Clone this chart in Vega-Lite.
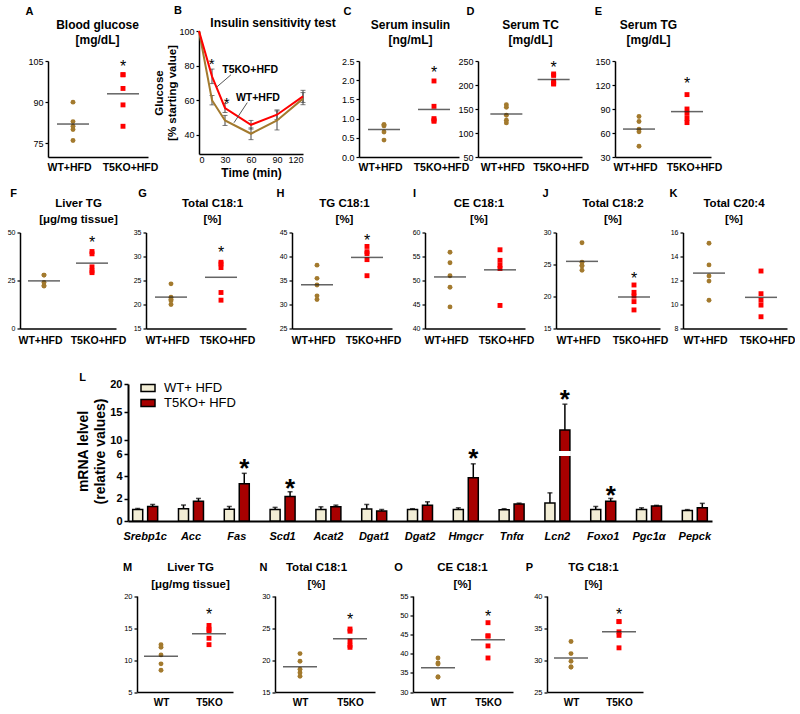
{
"$schema": "https://vega.github.io/schema/vega-lite/v6.json",
"padding": {"left": 0, "top": 4, "right": 0, "bottom": 0},
"background": "white",
"spacing": 171.5,
"bounds": "flush",
"resolve": {"legend": {"fill": "independent"}},
"config": {
  "font": "Liberation Sans",
  "view": {"stroke": null},
  "axis": {"grid": false, "domainColor": "black", "domainWidth": 1.5, "tickColor": "black", "tickWidth": 1.2, "tickSize": 3, "labelColor": "black", "labelFont": "Liberation Sans", "titleColor": "black", "titleFont": "Liberation Sans", "titleFontWeight": "bold", "labelPadding": 2, "titleAlign": "center", "titleBaseline": "middle"},
  "axisY": {"titleFontSize": 12, "labelFontSize": 7},
  "axisX": {"labelAngle": 0, "ticks": false, "labelPadding": 5.5, "labelFontSize": 10.5, "labelFontWeight": "bold", "titleFontSize": 11},
  "text": {"font": "Liberation Sans", "color": "black"}
},
"vconcat": [
{"hconcat": [
{"width": 48, "height": 1, "data": {"values": [{}]}, "mark": {"type": "point", "opacity": 0}, "encoding": {"y": {"datum": 0.5, "type": "quantitative", "scale": {"domain": [0, 1], "range": [121, -58]}, "axis": {"domainOpacity": 0, "domainWidth": 0.001, "labels": false, "ticks": false, "title": null}}}},
{"width": 100, "height": 96,
 "data": {"values": [{"g":"WT+HFD","v":90},{"g":"WT+HFD","v":82.9},{"g":"WT+HFD","v":81.2},{"g":"WT+HFD","v":80},{"g":"WT+HFD","v":76},{"g":"T5KO+HFD","v":100},{"g":"T5KO+HFD","v":100},{"g":"T5KO+HFD","v":95},{"g":"T5KO+HFD","v":89},{"g":"T5KO+HFD","v":81.2}]},
 "encoding": {
  "x": {"field":"g","type":"nominal","scale":{"type":"point","padding":0.5,"domain":["WT+HFD","T5KO+HFD"]},"axis":{"title":"A","titleX":-19,"titleY":-146,"labelPadding":5.5,"labelOffset":{"condition":{"test":"datum.value === 'WT+HFD'","value":-4},"value":7}}},
  "y": {"field":"v","type":"quantitative","scale":{"domain":[70,105],"nice":false,"zero":false},"axis":{"values":[75,90,105],"labelFontSize":9,"title":["Blood glucose","[mg/dL]"],"titleAngle":0,"titleX":49,"titleY":-36.5,"titleLineHeight":15}}
 },
 "layer": [
  {"mark":{"type":"point","filled":true,"opacity":1,"size":24,"strokeWidth":0},"encoding":{"color":{"field":"g","type":"nominal","scale":{"domain":["WT+HFD","T5KO+HFD"],"range":["#A37A2E","#FF0000"]},"legend":null},"shape":{"field":"g","type":"nominal","scale":{"domain":["WT+HFD","T5KO+HFD"],"range":["circle","square"]},"legend":null}}},
  {"transform":[{"aggregate":[{"op":"mean","field":"v","as":"v"}],"groupby":["g"]}],"mark":{"type":"tick","orient":"horizontal","size":32,"thickness":1.5,"color":"#222"}},
  {"data":{"values":[{"g":"T5KO+HFD","v":104.5}]},"mark":{"type":"text","text":"*","fontSize":16,"dy":4.5,"baseline":"middle"}}
 ]},
{"width": 51, "height": 1, "data": {"values": []}, "mark": "point"},
{"width": 104, "height": 93,
 "data": {"values": [
  {"t":0,"g":"WT+HFD","m":100},
  {"t":15,"g":"WT+HFD","m":60,"lo":57.3,"hi":62.7},
  {"t":30,"g":"WT+HFD","m":48.3,"lo":45.4,"hi":51.2},
  {"t":60,"g":"WT+HFD","m":40.6,"lo":37.2,"hi":44},
  {"t":90,"g":"WT+HFD","m":48.3,"lo":42.8,"hi":53.8},
  {"t":120,"g":"WT+HFD","m":60.9,"lo":57.4,"hi":64.4},
  {"t":0,"g":"T5KO+HFD","m":100},
  {"t":15,"g":"T5KO+HFD","m":73.8,"lo":69.6,"hi":78},
  {"t":30,"g":"T5KO+HFD","m":55.5,"lo":52.9,"hi":58.1},
  {"t":60,"g":"T5KO+HFD","m":45.8,"lo":43.3,"hi":48.3},
  {"t":90,"g":"T5KO+HFD","m":51.6,"lo":48.8,"hi":54.4},
  {"t":120,"g":"T5KO+HFD","m":62.2,"lo":58.7,"hi":65.7}]},
 "encoding": {
  "x": {"field":"t","type":"quantitative","scale":{"domain":[0,120],"nice":false,"zero":false},"axis":{"values":[0,30,60,90,120],"labelFontSize":9,"labelFontWeight":"normal","labelPadding":1,"title":"Time (min)","titleFontSize":12,"titleX":52,"titleY":18}},
  "y": {"field":"m","type":"quantitative","scale":{"domain":[28.9,100],"range":[93,-30],"nice":false,"zero":false},"axis":{"values":[40,60,80,100],"labelFontSize":9,"title":["Glucose","[% starting value]"],"titleFontSize":11.5,"titleX":-39.5,"titleY":31.5,"titleLineHeight":13}}
 },
 "layer": [
  {"mark":{"type":"rule","color":"#444","strokeWidth":1},"encoding":{"y":{"field":"lo","type":"quantitative"},"y2":{"field":"hi"}}},
  {"mark":{"type":"tick","orient":"horizontal","size":5,"thickness":1,"color":"#444"},"encoding":{"y":{"field":"lo","type":"quantitative"}}},
  {"mark":{"type":"tick","orient":"horizontal","size":5,"thickness":1,"color":"#444"},"encoding":{"y":{"field":"hi","type":"quantitative"}}},
  {"transform":[{"filter":"datum.g === 'WT+HFD'"}],"mark":{"type":"line","color":"#A37A2E","strokeWidth":2},"encoding":{}},
  {"transform":[{"filter":"datum.g === 'T5KO+HFD'"}],"mark":{"type":"line","color":"#FF0000","strokeWidth":2},"encoding":{}},
  {"data":{"values":[{"t":14.6,"m":83.4},{"t":32,"m":60.9}]},"mark":{"type":"text","text":"*","fontSize":15,"dy":4,"baseline":"middle"}},
  {"data":{"values":[{"t":59,"m":77.4,"label":"T5KO+HFD"},{"t":68,"m":61.2,"label":"WT+HFD"}]},"mark":{"type":"text","fontSize":10.5,"fontWeight":"bold","baseline":"middle"},"encoding":{"text":{"field":"label"}}},
  {"data":{"values":[{"t":36.9,"m":74.7,"t2":20.4,"m2":67.6},{"t":55.7,"m":58.6,"t2":40.4,"m2":47.0}]},"mark":{"type":"rule","color":"#555","strokeWidth":1},"encoding":{"x2":{"field":"t2"},"y2":{"field":"m2"}}},
  {"data":{"values":[{"t":-24.2,"m":111.6,"label":"B"}]},"mark":{"type":"text","fontSize":11,"fontWeight":"bold","baseline":"middle"},"encoding":{"text":{"field":"label"}}},
  {"data":{"values":[{"t":85.4,"m":104.6,"label":"Insulin sensitivity test"}]},"mark":{"type":"text","fontSize":12,"fontWeight":"bold","baseline":"middle"},"encoding":{"text":{"field":"label"}}}
 ]},
{"width": 56, "height": 1, "data": {"values": []}, "mark": "point"},
{"width": 100, "height": 96,
 "data": {"values": [{"g":"WT+HFD","v":0.84},{"g":"WT+HFD","v":0.81},{"g":"WT+HFD","v":0.84},{"g":"WT+HFD","v":0.65},{"g":"WT+HFD","v":0.44},{"g":"T5KO+HFD","v":1.98},{"g":"T5KO+HFD","v":1.32},{"g":"T5KO+HFD","v":1.0},{"g":"T5KO+HFD","v":0.93},{"g":"T5KO+HFD","v":0.96}]},
 "encoding": {
  "x": {"field":"g","type":"nominal","scale":{"type":"point","padding":0.5,"domain":["WT+HFD","T5KO+HFD"]},"axis":{"title":"C","titleX":-12,"titleY":-146,"labelPadding":5.5,"labelOffset":{"condition":{"test":"datum.value === 'WT+HFD'","value":-4},"value":7}}},
  "y": {"field":"v","type":"quantitative","scale":{"domain":[0,2.5],"nice":false,"zero":false},"axis":{"values":[0,0.5,1,1.5,2,2.5],"format":".1f","labelFontSize":9,"title":["Serum insulin","[ng/mL]"],"titleAngle":0,"titleX":51,"titleY":-36.5,"titleLineHeight":15}}
 },
 "layer": [
  {"mark":{"type":"point","filled":true,"opacity":1,"size":24,"strokeWidth":0},"encoding":{"color":{"field":"g","type":"nominal","scale":{"domain":["WT+HFD","T5KO+HFD"],"range":["#A37A2E","#FF0000"]},"legend":null},"shape":{"field":"g","type":"nominal","scale":{"domain":["WT+HFD","T5KO+HFD"],"range":["circle","square"]},"legend":null}}},
  {"transform":[{"aggregate":[{"op":"mean","field":"v","as":"v"}],"groupby":["g"]}],"mark":{"type":"tick","orient":"horizontal","size":32,"thickness":1.5,"color":"#222"}},
  {"data":{"values":[{"g":"T5KO+HFD","v":2.3}]},"mark":{"type":"text","text":"*","fontSize":16,"dy":4.5,"baseline":"middle"}}
 ]},
{"width": 19, "height": 1, "data": {"values": []}, "mark": "point"},
{"width": 104, "height": 96,
 "data": {"values": [{"g":"WT+HFD","v":159},{"g":"WT+HFD","v":153.5},{"g":"WT+HFD","v":137},{"g":"WT+HFD","v":126.5},{"g":"WT+HFD","v":121},{"g":"T5KO+HFD","v":223},{"g":"T5KO+HFD","v":220},{"g":"T5KO+HFD","v":207.7},{"g":"T5KO+HFD","v":202},{"g":"T5KO+HFD","v":203.5}]},
 "encoding": {
  "x": {"field":"g","type":"nominal","scale":{"type":"point","padding":0.6,"domain":["WT+HFD","T5KO+HFD"]},"axis":{"title":"D","titleX":-8,"titleY":-146,"labelPadding":5.5,"labelOffset":{"condition":{"test":"datum.value === 'WT+HFD'","value":-4},"value":7}}},
  "y": {"field":"v","type":"quantitative","scale":{"domain":[50,250],"nice":false,"zero":false},"axis":{"values":[50,100,150,200,250],"labelFontSize":9,"title":["Serum TC","[mg/dL]"],"titleAngle":0,"titleX":52,"titleY":-36.5,"titleLineHeight":15}}
 },
 "layer": [
  {"mark":{"type":"point","filled":true,"opacity":1,"size":24,"strokeWidth":0},"encoding":{"color":{"field":"g","type":"nominal","scale":{"domain":["WT+HFD","T5KO+HFD"],"range":["#A37A2E","#FF0000"]},"legend":null},"shape":{"field":"g","type":"nominal","scale":{"domain":["WT+HFD","T5KO+HFD"],"range":["circle","square"]},"legend":null}}},
  {"transform":[{"aggregate":[{"op":"mean","field":"v","as":"v"}],"groupby":["g"]}],"mark":{"type":"tick","orient":"horizontal","size":32,"thickness":1.5,"color":"#222"}},
  {"data":{"values":[{"g":"T5KO+HFD","v":245.8}]},"mark":{"type":"text","text":"*","fontSize":16,"dy":4.5,"baseline":"middle"}}
 ]},
{"width": 33, "height": 1, "data": {"values": []}, "mark": "point"},
{"width": 96, "height": 96,
 "data": {"values": [{"g":"WT+HFD","v":80.7},{"g":"WT+HFD","v":74.3},{"g":"WT+HFD","v":64.6},{"g":"WT+HFD","v":61.6},{"g":"WT+HFD","v":43.4},{"g":"T5KO+HFD","v":108},{"g":"T5KO+HFD","v":90},{"g":"T5KO+HFD","v":84.5},{"g":"T5KO+HFD","v":78.2},{"g":"T5KO+HFD","v":73}]},
 "encoding": {
  "x": {"field":"g","type":"nominal","scale":{"type":"point","padding":0.5,"domain":["WT+HFD","T5KO+HFD"]},"axis":{"title":"E","titleX":-17,"titleY":-146,"labelPadding":5.5,"labelOffset":{"condition":{"test":"datum.value === 'WT+HFD'","value":-4},"value":7}}},
  "y": {"field":"v","type":"quantitative","scale":{"domain":[30,150],"nice":false,"zero":false},"axis":{"values":[30,60,90,120,150],"labelFontSize":9,"title":["Serum TG","[mg/dL]"],"titleAngle":0,"titleX":33,"titleY":-36.5,"titleLineHeight":15}}
 },
 "layer": [
  {"mark":{"type":"point","filled":true,"opacity":1,"size":24,"strokeWidth":0},"encoding":{"color":{"field":"g","type":"nominal","scale":{"domain":["WT+HFD","T5KO+HFD"],"range":["#A37A2E","#FF0000"]},"legend":null},"shape":{"field":"g","type":"nominal","scale":{"domain":["WT+HFD","T5KO+HFD"],"range":["circle","square"]},"legend":null}}},
  {"transform":[{"aggregate":[{"op":"mean","field":"v","as":"v"}],"groupby":["g"]}],"mark":{"type":"tick","orient":"horizontal","size":32,"thickness":1.5,"color":"#222"}},
  {"data":{"values":[{"g":"T5KO+HFD","v":127.5}]},"mark":{"type":"text","text":"*","fontSize":16,"dy":4.5,"baseline":"middle"}}
 ]}
], "spacing": 0, "bounds": "flush"},

{"hconcat": [
{"width": 20, "height": 1, "data": {"values": [{}]}, "mark": {"type": "point", "opacity": 0}, "encoding": {"y": {"datum": 0.5, "type": "quantitative", "scale": {"domain": [0, 1], "range": [1, 0]}, "axis": {"domainOpacity": 0, "domainWidth": 0.001, "labels": false, "ticks": false, "title": null}}}},
{"width": 96, "height": 96,
 "data": {"values": [{"g":"WT+HFD","v":27.8},{"g":"WT+HFD","v":27.8},{"g":"WT+HFD","v":24},{"g":"WT+HFD","v":22.1},{"g":"WT+HFD","v":22.3},{"g":"T5KO+HFD","v":40.1},{"g":"T5KO+HFD","v":38.9},{"g":"T5KO+HFD","v":32.1},{"g":"T5KO+HFD","v":29.1},{"g":"T5KO+HFD","v":30}]},
 "encoding": {
  "x": {"field":"g","type":"nominal","scale":{"type":"point","padding":0.5,"domain":["WT+HFD","T5KO+HFD"]},"axis":{"title":"F","titleX":-7,"titleY":-135,"labelPadding":6.5,"labelOffset":{"condition":{"test":"datum.value === 'WT+HFD'","value":-4},"value":6}}},
  "y": {"field":"v","type":"quantitative","scale":{"domain":[0,50],"nice":false,"zero":false},"axis":{"values":[0,25,50],"labelFontSize":7,"title":["Liver TG","[μg/mg tissue]"],"titleAngle":0,"titleFontSize":11.5,"titleX":58,"titleY":-29.5,"titleLineHeight":16}}
 },
 "layer": [
  {"mark":{"type":"point","filled":true,"opacity":1,"size":24,"strokeWidth":0},"encoding":{"color":{"field":"g","type":"nominal","scale":{"domain":["WT+HFD","T5KO+HFD"],"range":["#A37A2E","#FF0000"]},"legend":null},"shape":{"field":"g","type":"nominal","scale":{"domain":["WT+HFD","T5KO+HFD"],"range":["circle","square"]},"legend":null}}},
  {"transform":[{"aggregate":[{"op":"mean","field":"v","as":"v"}],"groupby":["g"]}],"mark":{"type":"tick","orient":"horizontal","size":32,"thickness":1.5,"color":"#222"}},
  {"data":{"values":[{"g":"T5KO+HFD","v":47}]},"mark":{"type":"text","text":"*","fontSize":16,"dy":4.5,"baseline":"middle"}}
 ]},
{"width": 30, "height": 1, "data": {"values": []}, "mark": "point"},
{"width": 100, "height": 96,
 "data": {"values": [{"g":"WT+HFD","v":24.3},{"g":"WT+HFD","v":21.5},{"g":"WT+HFD","v":21.1},{"g":"WT+HFD","v":20.8},{"g":"WT+HFD","v":20.0},{"g":"T5KO+HFD","v":28.8},{"g":"T5KO+HFD","v":28.45},{"g":"T5KO+HFD","v":27.7},{"g":"T5KO+HFD","v":22.5},{"g":"T5KO+HFD","v":20.9}]},
 "encoding": {
  "x": {"field":"g","type":"nominal","scale":{"type":"point","padding":0.5,"domain":["WT+HFD","T5KO+HFD"]},"axis":{"title":"G","titleX":-4,"titleY":-135,"labelPadding":6.5,"labelOffset":{"condition":{"test":"datum.value === 'WT+HFD'","value":-4},"value":6}}},
  "y": {"field":"v","type":"quantitative","scale":{"domain":[15,35],"nice":false,"zero":false},"axis":{"values":[15,20,25,30,35],"labelFontSize":7,"title":["Total C18:1","[%]"],"titleAngle":0,"titleFontSize":11.5,"titleX":66,"titleY":-29.5,"titleLineHeight":16}}
 },
 "layer": [
  {"mark":{"type":"point","filled":true,"opacity":1,"size":24,"strokeWidth":0},"encoding":{"color":{"field":"g","type":"nominal","scale":{"domain":["WT+HFD","T5KO+HFD"],"range":["#A37A2E","#FF0000"]},"legend":null},"shape":{"field":"g","type":"nominal","scale":{"domain":["WT+HFD","T5KO+HFD"],"range":["circle","square"]},"legend":null}}},
  {"transform":[{"aggregate":[{"op":"mean","field":"v","as":"v"}],"groupby":["g"]}],"mark":{"type":"tick","orient":"horizontal","size":32,"thickness":1.5,"color":"#222"}},
  {"data":{"values":[{"g":"T5KO+HFD","v":31.7}]},"mark":{"type":"text","text":"*","fontSize":16,"dy":4.5,"baseline":"middle"}}
 ]},
{"width": 46, "height": 1, "data": {"values": []}, "mark": "point"},
{"width": 100, "height": 96,
 "data": {"values": [{"g":"WT+HFD","v":38.2},{"g":"WT+HFD","v":35.45},{"g":"WT+HFD","v":34.05},{"g":"WT+HFD","v":31.8},{"g":"WT+HFD","v":31.05},{"g":"T5KO+HFD","v":42.1},{"g":"T5KO+HFD","v":41.0},{"g":"T5KO+HFD","v":40.6},{"g":"T5KO+HFD","v":39.35},{"g":"T5KO+HFD","v":36.0}]},
 "encoding": {
  "x": {"field":"g","type":"nominal","scale":{"type":"point","padding":0.5,"domain":["WT+HFD","T5KO+HFD"]},"axis":{"title":"H","titleX":-12,"titleY":-135,"labelPadding":6.5,"labelOffset":{"condition":{"test":"datum.value === 'WT+HFD'","value":-4},"value":6}}},
  "y": {"field":"v","type":"quantitative","scale":{"domain":[25,45],"nice":false,"zero":false},"axis":{"values":[25,30,35,40,45],"labelFontSize":7,"title":["TG C18:1","[%]"],"titleAngle":0,"titleFontSize":11.5,"titleX":52,"titleY":-29.5,"titleLineHeight":16}}
 },
 "layer": [
  {"mark":{"type":"point","filled":true,"opacity":1,"size":24,"strokeWidth":0},"encoding":{"color":{"field":"g","type":"nominal","scale":{"domain":["WT+HFD","T5KO+HFD"],"range":["#A37A2E","#FF0000"]},"legend":null},"shape":{"field":"g","type":"nominal","scale":{"domain":["WT+HFD","T5KO+HFD"],"range":["circle","square"]},"legend":null}}},
  {"transform":[{"aggregate":[{"op":"mean","field":"v","as":"v"}],"groupby":["g"]}],"mark":{"type":"tick","orient":"horizontal","size":32,"thickness":1.5,"color":"#222"}},
  {"data":{"values":[{"g":"T5KO+HFD","v":44.2}]},"mark":{"type":"text","text":"*","fontSize":16,"dy":4.5,"baseline":"middle"}}
 ]},
{"width": 33, "height": 1, "data": {"values": []}, "mark": "point"},
{"width": 100, "height": 96,
 "data": {"values": [{"g":"WT+HFD","v":55.9},{"g":"WT+HFD","v":53.7},{"g":"WT+HFD","v":51.0},{"g":"WT+HFD","v":48.6},{"g":"WT+HFD","v":44.5},{"g":"T5KO+HFD","v":56.4},{"g":"T5KO+HFD","v":54.2},{"g":"T5KO+HFD","v":53.2},{"g":"T5KO+HFD","v":52.5},{"g":"T5KO+HFD","v":44.8}]},
 "encoding": {
  "x": {"field":"g","type":"nominal","scale":{"type":"point","padding":0.5,"domain":["WT+HFD","T5KO+HFD"]},"axis":{"title":"I","titleX":-11,"titleY":-135,"labelPadding":6.5,"labelOffset":{"condition":{"test":"datum.value === 'WT+HFD'","value":-4},"value":6}}},
  "y": {"field":"v","type":"quantitative","scale":{"domain":[40,60],"nice":false,"zero":false},"axis":{"values":[40,45,50,55,60],"labelFontSize":7,"title":["CE C18:1","[%]"],"titleAngle":0,"titleFontSize":11.5,"titleX":53.5,"titleY":-29.5,"titleLineHeight":16}}
 },
 "layer": [
  {"mark":{"type":"point","filled":true,"opacity":1,"size":24,"strokeWidth":0},"encoding":{"color":{"field":"g","type":"nominal","scale":{"domain":["WT+HFD","T5KO+HFD"],"range":["#A37A2E","#FF0000"]},"legend":null},"shape":{"field":"g","type":"nominal","scale":{"domain":["WT+HFD","T5KO+HFD"],"range":["circle","square"]},"legend":null}}},
  {"transform":[{"aggregate":[{"op":"mean","field":"v","as":"v"}],"groupby":["g"]}],"mark":{"type":"tick","orient":"horizontal","size":32,"thickness":1.5,"color":"#222"}}
 ]},
{"width": 31, "height": 1, "data": {"values": []}, "mark": "point"},
{"width": 104, "height": 96,
 "data": {"values": [{"g":"WT+HFD","v":28.4},{"g":"WT+HFD","v":25.35},{"g":"WT+HFD","v":24.8},{"g":"WT+HFD","v":24.8},{"g":"WT+HFD","v":24.1},{"g":"T5KO+HFD","v":21.8},{"g":"T5KO+HFD","v":20.65},{"g":"T5KO+HFD","v":20.06},{"g":"T5KO+HFD","v":19.2},{"g":"T5KO+HFD","v":17.9}]},
 "encoding": {
  "x": {"field":"g","type":"nominal","scale":{"type":"point","padding":0.5,"domain":["WT+HFD","T5KO+HFD"]},"axis":{"title":"J","titleX":-11,"titleY":-135,"labelPadding":6.5,"labelOffset":{"condition":{"test":"datum.value === 'WT+HFD'","value":-4},"value":6}}},
  "y": {"field":"v","type":"quantitative","scale":{"domain":[15,30],"nice":false,"zero":false},"axis":{"values":[15,20,25,30],"labelFontSize":7,"title":["Total C18:2","[%]"],"titleAngle":0,"titleFontSize":11.5,"titleX":56.5,"titleY":-29.5,"titleLineHeight":16}}
 },
 "layer": [
  {"mark":{"type":"point","filled":true,"opacity":1,"size":24,"strokeWidth":0},"encoding":{"color":{"field":"g","type":"nominal","scale":{"domain":["WT+HFD","T5KO+HFD"],"range":["#A37A2E","#FF0000"]},"legend":null},"shape":{"field":"g","type":"nominal","scale":{"domain":["WT+HFD","T5KO+HFD"],"range":["circle","square"]},"legend":null}}},
  {"transform":[{"aggregate":[{"op":"mean","field":"v","as":"v"}],"groupby":["g"]}],"mark":{"type":"tick","orient":"horizontal","size":32,"thickness":1.5,"color":"#222"}},
  {"data":{"values":[{"g":"T5KO+HFD","v":23.5}]},"mark":{"type":"text","text":"*","fontSize":16,"dy":4.5,"baseline":"middle"}}
 ]},
{"width": 23, "height": 1, "data": {"values": []}, "mark": "point"},
{"width": 104, "height": 96,
 "data": {"values": [{"g":"WT+HFD","v":15.1},{"g":"WT+HFD","v":13.3},{"g":"WT+HFD","v":12.37},{"g":"WT+HFD","v":11.95},{"g":"WT+HFD","v":10.36},{"g":"T5KO+HFD","v":12.79},{"g":"T5KO+HFD","v":10.9},{"g":"T5KO+HFD","v":10.36},{"g":"T5KO+HFD","v":9.95},{"g":"T5KO+HFD","v":8.98}]},
 "encoding": {
  "x": {"field":"g","type":"nominal","scale":{"type":"point","padding":0.5,"domain":["WT+HFD","T5KO+HFD"]},"axis":{"title":"K","titleX":-10,"titleY":-135,"labelPadding":6.5,"labelOffset":{"condition":{"test":"datum.value === 'WT+HFD'","value":-4},"value":6}}},
  "y": {"field":"v","type":"quantitative","scale":{"domain":[8,16],"nice":false,"zero":false},"axis":{"values":[8,10,12,14,16],"labelFontSize":7,"title":["Total C20:4","[%]"],"titleAngle":0,"titleFontSize":11.5,"titleX":50.5,"titleY":-29.5,"titleLineHeight":16}}
 },
 "layer": [
  {"mark":{"type":"point","filled":true,"opacity":1,"size":24,"strokeWidth":0},"encoding":{"color":{"field":"g","type":"nominal","scale":{"domain":["WT+HFD","T5KO+HFD"],"range":["#A37A2E","#FF0000"]},"legend":null},"shape":{"field":"g","type":"nominal","scale":{"domain":["WT+HFD","T5KO+HFD"],"range":["circle","square"]},"legend":null}}},
  {"transform":[{"aggregate":[{"op":"mean","field":"v","as":"v"}],"groupby":["g"]}],"mark":{"type":"tick","orient":"horizontal","size":32,"thickness":1.5,"color":"#222"}}
 ]}
], "spacing": 0, "bounds": "flush"},

{"hconcat": [
{"width": 128, "height": 1, "data": {"values": [{}]}, "mark": {"type": "point", "opacity": 0}, "encoding": {"y": {"datum": 0.5, "type": "quantitative", "scale": {"domain": [0, 1], "range": [1, 0]}, "axis": {"domainOpacity": 0, "domainWidth": 0.001, "labels": false, "ticks": false, "title": null}}}},
{"width": 584, "height": 117,
 "data": {"values": [
  {"gene":"Srebp1c","grp":"WT+ HFD","m":1.03,"hi":1.12},{"gene":"Srebp1c","grp":"T5KO+ HFD","m":1.3,"hi":1.48},
  {"gene":"Acc","grp":"WT+ HFD","m":1.1,"hi":1.43},{"gene":"Acc","grp":"T5KO+ HFD","m":1.77,"hi":2.02},
  {"gene":"Fas","grp":"WT+ HFD","m":1.05,"hi":1.3},{"gene":"Fas","grp":"T5KO+ HFD","m":3.33,"hi":4.27},
  {"gene":"Scd1","grp":"WT+ HFD","m":1.03,"hi":1.22},{"gene":"Scd1","grp":"T5KO+ HFD","m":2.2,"hi":2.62},
  {"gene":"Acat2","grp":"WT+ HFD","m":1.03,"hi":1.27},{"gene":"Acat2","grp":"T5KO+ HFD","m":1.27,"hi":1.42},
  {"gene":"Dgat1","grp":"WT+ HFD","m":1.08,"hi":1.48},{"gene":"Dgat1","grp":"T5KO+ HFD","m":0.9,"hi":1.02},
  {"gene":"Dgat2","grp":"WT+ HFD","m":1.03,"hi":1.1},{"gene":"Dgat2","grp":"T5KO+ HFD","m":1.42,"hi":1.72},
  {"gene":"Hmgcr","grp":"WT+ HFD","m":1.03,"hi":1.18},{"gene":"Hmgcr","grp":"T5KO+ HFD","m":3.87,"hi":5.12},
  {"gene":"Tnfα","grp":"WT+ HFD","m":1.0,"hi":1.1},{"gene":"Tnfα","grp":"T5KO+ HFD","m":1.52,"hi":1.6},
  {"gene":"Lcn2","grp":"WT+ HFD","m":1.62,"hi":2.52},{"gene":"Lcn2","grp":"T5KO+ HFD","m":11.8,"hi":16.4},
  {"gene":"Foxo1","grp":"WT+ HFD","m":1.03,"hi":1.3},{"gene":"Foxo1","grp":"T5KO+ HFD","m":1.77,"hi":2.02},
  {"gene":"Pgc1α","grp":"WT+ HFD","m":1.03,"hi":1.18},{"gene":"Pgc1α","grp":"T5KO+ HFD","m":1.34,"hi":1.4},
  {"gene":"Pepck","grp":"WT+ HFD","m":0.95,"hi":1.02},{"gene":"Pepck","grp":"T5KO+ HFD","m":1.18,"hi":1.58}]},
 "encoding": {
  "x": {"field":"gene","type":"nominal","sort":["Srebp1c","Acc","Fas","Scd1","Acat2","Dgat1","Dgat2","Hmgcr","Tnfα","Lcn2","Foxo1","Pgc1α","Pepck"],"scale":{"type":"band","paddingInner":0.35,"paddingOuter":0.05},"axis":{"title":"L","titleX":-46,"titleY":-144,"labelFontStyle":"italic","labelFontWeight":"bold","labelFontSize":11,"labelPadding":9,"domainWidth":2}},
  "xOffset": {"field":"grp","type":"nominal","sort":["WT+ HFD","T5KO+ HFD"],"scale":{"paddingInner":0.33,"paddingOuter":0.16}},
  "y": {"field":"m","type":"quantitative","scale":{"domain":[0,6,10,20],"range":[117,50,36,-20],"nice":false,"zero":false},"axis":{"values":[0,2,4,6,10,15,20],"labelFontSize":11,"labelFontWeight":"bold","tickSize":4,"tickWidth":1.5,"domainWidth":2,"title":["mRNA lelvel","(relative values)"],"titleFontSize":14,"titleX":-44.5,"titleY":47,"titleLineHeight":17}}
 },
 "layer": [
  {"mark":{"type":"bar","stroke":"black","strokeWidth":1.5},"encoding":{"fill":{"field":"grp","type":"nominal","scale":{"domain":["WT+ HFD","T5KO+ HFD"],"range":["#F2EDD5","#A80000"]},"legend":{"title":null,"orient":"none","legendX":12,"legendY":-24,"symbolType":"M-1,-0.5H1V0.5H-1Z","symbolSize":196,"symbolStrokeColor":"black","symbolStrokeWidth":1.5,"labelFontSize":13,"labelFont":"Liberation Sans","labelColor":"black","labelOffset":8,"rowPadding":0,"padding":0}}}},
  {"mark":{"type":"rule","strokeWidth":1.5,"color":"black"},"encoding":{"y2":{"field":"hi"}}},
  {"mark":{"type":"tick","orient":"horizontal","size":5,"thickness":1.5,"color":"black"},"encoding":{"y":{"field":"hi","type":"quantitative"}}},
  {"data":{"values":[{"gene":"Lcn2","grp":"T5KO+ HFD","m":5.9,"hi":6.55}]},"mark":{"type":"bar","fill":"white","stroke":"white","strokeWidth":2},"encoding":{"y2":{"field":"hi"}}},
  {"data":{"values":[{"gene":"Fas","grp":"T5KO+ HFD","m":5.3},{"gene":"Scd1","grp":"T5KO+ HFD","m":3.5},{"gene":"Hmgcr","grp":"T5KO+ HFD","m":6.57},{"gene":"Lcn2","grp":"T5KO+ HFD","m":18.4},{"gene":"Foxo1","grp":"T5KO+ HFD","m":2.86}]},"mark":{"type":"text","text":"*","fontSize":26,"fontWeight":"bold","dy":7,"baseline":"middle"}}
 ]}
], "spacing": 0, "bounds": "flush", "resolve": {"legend": {"fill": "independent"}}},

{"hconcat": [
{"width": 137, "height": 1, "data": {"values": [{}]}, "mark": {"type": "point", "opacity": 0}, "encoding": {"y": {"datum": 0.5, "type": "quantitative", "scale": {"domain": [0, 1], "range": [1, 0]}, "axis": {"domainOpacity": 0, "domainWidth": 0.001, "labels": false, "ticks": false, "title": null}}}},
{"width": 96, "height": 116.5,
 "data": {"values": [{"g":"WT","v":12.4},{"g":"WT","v":12.0},{"g":"WT","v":10.8},{"g":"WT","v":9.4},{"g":"WT","v":8.4},{"g":"T5KO","v":15.4},{"g":"T5KO","v":14.8},{"g":"T5KO","v":14.6},{"g":"T5KO","v":13.4},{"g":"T5KO","v":12.4}]},
 "encoding": {
  "x": {"field":"g","type":"nominal","scale":{"type":"point","padding":0.5,"domain":["WT","T5KO"]},"axis":{"title":"M","titleX":-10,"titleY":-125,"labelPadding":5.5,"labelFontSize":10}},
  "y": {"field":"v","type":"quantitative","scale":{"domain":[5,20],"range":[116.5,20.5],"nice":false,"zero":false},"axis":{"values":[5,10,15,20],"labelFontSize":7.5,"title":["Liver TG","[μg/mg tissue]"],"titleAngle":0,"titleFontSize":11.5,"titleX":53,"titleY":-8,"titleLineHeight":17}}
 },
 "layer": [
  {"mark":{"type":"point","filled":true,"opacity":1,"size":24,"strokeWidth":0},"encoding":{"color":{"field":"g","type":"nominal","scale":{"domain":["WT","T5KO"],"range":["#A37A2E","#FF0000"]},"legend":null},"shape":{"field":"g","type":"nominal","scale":{"domain":["WT","T5KO"],"range":["circle","square"]},"legend":null}}},
  {"transform":[{"aggregate":[{"op":"mean","field":"v","as":"v"}],"groupby":["g"]}],"mark":{"type":"tick","orient":"horizontal","size":34,"thickness":1.5,"color":"#222"}},
  {"data":{"values":[{"g":"T5KO","v":17.7}]},"mark":{"type":"text","text":"*","fontSize":16,"dy":4.5,"baseline":"middle"}}
 ]},
{"width": 42, "height": 1, "data": {"values": []}, "mark": "point"},
{"width": 100, "height": 116.5,
 "data": {"values": [{"g":"WT","v":21.0},{"g":"WT","v":19.8},{"g":"WT","v":18.55},{"g":"WT","v":18.0},{"g":"WT","v":17.45},{"g":"T5KO","v":24.84},{"g":"T5KO","v":24.5},{"g":"T5KO","v":22.97},{"g":"T5KO","v":22.3},{"g":"T5KO","v":21.98}]},
 "encoding": {
  "x": {"field":"g","type":"nominal","scale":{"type":"point","padding":0.5,"domain":["WT","T5KO"]},"axis":{"title":"N","titleX":-12,"titleY":-125,"labelPadding":5.5,"labelFontSize":10}},
  "y": {"field":"v","type":"quantitative","scale":{"domain":[15,30],"range":[116.5,20.5],"nice":false,"zero":false},"axis":{"values":[15,20,25,30],"labelFontSize":7.5,"title":["Total C18:1","[%]"],"titleAngle":0,"titleFontSize":11.5,"titleX":41,"titleY":-8,"titleLineHeight":17}}
 },
 "layer": [
  {"mark":{"type":"point","filled":true,"opacity":1,"size":24,"strokeWidth":0},"encoding":{"color":{"field":"g","type":"nominal","scale":{"domain":["WT","T5KO"],"range":["#A37A2E","#FF0000"]},"legend":null},"shape":{"field":"g","type":"nominal","scale":{"domain":["WT","T5KO"],"range":["circle","square"]},"legend":null}}},
  {"transform":[{"aggregate":[{"op":"mean","field":"v","as":"v"}],"groupby":["g"]}],"mark":{"type":"tick","orient":"horizontal","size":34,"thickness":1.5,"color":"#222"}},
  {"data":{"values":[{"g":"T5KO","v":27.0}]},"mark":{"type":"text","text":"*","fontSize":16,"dy":4.5,"baseline":"middle"}}
 ]},
{"width": 38, "height": 1, "data": {"values": []}, "mark": "point"},
{"width": 100, "height": 116.5,
 "data": {"values": [{"g":"WT","v":38.86},{"g":"WT","v":37.55},{"g":"WT","v":37.3},{"g":"WT","v":33.9},{"g":"WT","v":33.9},{"g":"T5KO","v":48.05},{"g":"T5KO","v":44.6},{"g":"T5KO","v":44.6},{"g":"T5KO","v":42.0},{"g":"T5KO","v":38.86}]},
 "encoding": {
  "x": {"field":"g","type":"nominal","scale":{"type":"point","padding":0.5,"domain":["WT","T5KO"]},"axis":{"title":"O","titleX":-15,"titleY":-125,"labelPadding":5.5,"labelFontSize":10}},
  "y": {"field":"v","type":"quantitative","scale":{"domain":[30,55],"range":[116.5,20.5],"nice":false,"zero":false},"axis":{"values":[30,35,40,45,50,55],"labelFontSize":7.5,"title":["CE C18:1","[%]"],"titleAngle":0,"titleFontSize":11.5,"titleX":49,"titleY":-8,"titleLineHeight":17}}
 },
 "layer": [
  {"mark":{"type":"point","filled":true,"opacity":1,"size":24,"strokeWidth":0},"encoding":{"color":{"field":"g","type":"nominal","scale":{"domain":["WT","T5KO"],"range":["#A37A2E","#FF0000"]},"legend":null},"shape":{"field":"g","type":"nominal","scale":{"domain":["WT","T5KO"],"range":["circle","square"]},"legend":null}}},
  {"transform":[{"aggregate":[{"op":"mean","field":"v","as":"v"}],"groupby":["g"]}],"mark":{"type":"tick","orient":"horizontal","size":34,"thickness":1.5,"color":"#222"}},
  {"data":{"values":[{"g":"T5KO","v":50.8}]},"mark":{"type":"text","text":"*","fontSize":16,"dy":4.5,"baseline":"middle"}}
 ]},
{"width": 34, "height": 1, "data": {"values": []}, "mark": "point"},
{"width": 96, "height": 116.5,
 "data": {"values": [{"g":"WT","v":32.9},{"g":"WT","v":31.0},{"g":"WT","v":29.8},{"g":"WT","v":28.9},{"g":"WT","v":28.9},{"g":"T5KO","v":36.0},{"g":"T5KO","v":36.0},{"g":"T5KO","v":34.4},{"g":"T5KO","v":33.85},{"g":"T5KO","v":31.9}]},
 "encoding": {
  "x": {"field":"g","type":"nominal","scale":{"type":"point","padding":0.5,"domain":["WT","T5KO"]},"axis":{"title":"P","titleX":-18,"titleY":-125,"labelPadding":5.5,"labelFontSize":10}},
  "y": {"field":"v","type":"quantitative","scale":{"domain":[25,40],"range":[116.5,20.5],"nice":false,"zero":false},"axis":{"values":[25,30,35,40],"labelFontSize":7.5,"title":["TG C18:1","[%]"],"titleAngle":0,"titleFontSize":11.5,"titleX":46,"titleY":-8,"titleLineHeight":17}}
 },
 "layer": [
  {"mark":{"type":"point","filled":true,"opacity":1,"size":24,"strokeWidth":0},"encoding":{"color":{"field":"g","type":"nominal","scale":{"domain":["WT","T5KO"],"range":["#A37A2E","#FF0000"]},"legend":null},"shape":{"field":"g","type":"nominal","scale":{"domain":["WT","T5KO"],"range":["circle","square"]},"legend":null}}},
  {"transform":[{"aggregate":[{"op":"mean","field":"v","as":"v"}],"groupby":["g"]}],"mark":{"type":"tick","orient":"horizontal","size":34,"thickness":1.5,"color":"#222"}},
  {"data":{"values":[{"g":"T5KO","v":37.8}]},"mark":{"type":"text","text":"*","fontSize":16,"dy":4.5,"baseline":"middle"}}
 ]}
], "spacing": 0, "bounds": "flush"}
]
}
